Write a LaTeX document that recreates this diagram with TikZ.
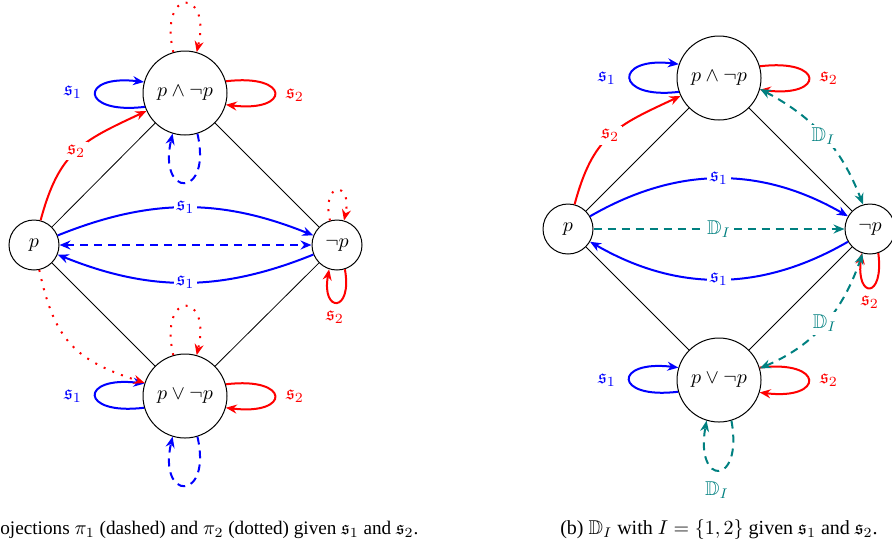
\documentclass[tikz,border=0pt]{standalone}
\usepackage{amssymb}
\usepackage[no-math]{fontspec}
\setmainfont{Liberation Serif}
\usetikzlibrary{arrows.meta}
\begin{document}
\begin{tikzpicture}[x=0.5pt,y=-0.5pt,
  big/.style={circle,draw,line width=0.5pt,minimum size=42pt,inner sep=0pt},
  small/.style={circle,draw,line width=0.5pt,minimum size=25pt,inner sep=0pt},
  link/.style={line width=0.4pt},
  tip/.tip={Stealth[length=5.5pt,width=4.5pt,inset=1.8pt]},
  arr/.style={line width=1pt,-tip},
  darr/.style={line width=1pt,tip-tip},
  dsh/.style={dash pattern=on 4pt off 3pt},
  dtd/.style={dash pattern=on 1pt off 3.7pt},
  lbl/.style={fill=white,inner sep=1.5pt},
  tag/.style={inner sep=1pt}]
\useasboundingbox (0,0) rectangle (892,548);
% ---------- left diagram ----------
\node[big] (A) at (185,93) {$p\wedge\neg p$};
\node[small] (P) at (34,245) {$p$};
\node[small] (N) at (337,245) {$\neg p$};
\node[big] (V) at (185,396) {$p\vee\neg p$};
\draw[link] (P) -- (A) (A) -- (N) (N) -- (V) (V) -- (P);
% loops on A
\draw[blue,arr] (A.199) .. controls +(-65,8) and +(-65,-8) .. (A.165);
\node[blue,tag] (lA1) at (73,92) {$\mathfrak{s}_1$};
\draw[red,arr] (A.16) .. controls +(65,-8) and +(65,8) .. (A.-16);
\node[red,tag] (lA2) at (295,95) {$\mathfrak{s}_2$};
\draw[red,arr,dtd] (A.106) .. controls +(-15,-65) and +(15,-65) .. (A.74);
\draw[blue,arr,dsh] (A.-73) .. controls +(15,65) and +(-15,65) .. (A.-107);
% loops on V
\draw[blue,arr] (V.196) .. controls +(-65,8) and +(-65,-8) .. (V.163);
\node[blue,tag] (lV1) at (73,396) {$\mathfrak{s}_1$};
\draw[red,arr] (V.16) .. controls +(65,-8) and +(65,8) .. (V.-16);
\node[red,tag] (lV2) at (295,396) {$\mathfrak{s}_2$};
\draw[red,arr,dtd] (V.106) .. controls +(-15,-65) and +(15,-65) .. (V.74);
\draw[blue,arr,dsh] (V.-73) .. controls +(15,65) and +(-15,65) .. (V.-107);
% loops on N
\draw[red,arr,dtd] (N.106) .. controls +(-9,-40) and +(9,-40) .. (N.74);
\draw[red,arr] (N.-72) .. controls +(8,44) and +(-8,44) .. (N.-108);
\node[red,tag] (lN2) at (335,317) {$\mathfrak{s}_2$};
% edges
\draw[red,arr] (P) to[out=75,in=205,looseness=1.2] node[lbl] (lPA) {$\mathfrak{s}_2$} (A);
\draw[red,arr,dtd] (P) to[out=-78,in=162,looseness=1.2] (V);
\draw[blue,arr] (P) to[bend left=22] node[lbl] (lPN) {$\mathfrak{s}_1$} (N);
\draw[blue,arr] (N) to[bend left=22] node[lbl] (lNP) {$\mathfrak{s}_1$} (P);
\draw[blue,darr,dsh] (P) -- (N);
% ---------- right diagram ----------
\node[big] (A2) at (719,78) {$p\wedge\neg p$};
\node[small] (P2) at (568,229) {$p$};
\node[small] (N2) at (870,229) {$\neg p$};
\node[big] (V2) at (719,380) {$p\vee\neg p$};
\draw[link] (P2) -- (A2) (A2) -- (N2) (N2) -- (V2) (V2) -- (P2);
\draw[blue,arr] (A2.199) .. controls +(-65,8) and +(-65,-8) .. (A2.161);
\node[blue,tag] (lA21) at (607,78) {$\mathfrak{s}_1$};
\draw[red,arr] (A2.16) .. controls +(65,-8) and +(65,8) .. (A2.-16);
\node[red,tag] (lA22) at (829,78) {$\mathfrak{s}_2$};
\draw[blue,arr] (V2.196) .. controls +(-65,8) and +(-65,-8) .. (V2.163);
\node[blue,tag] (lV21) at (607,380) {$\mathfrak{s}_1$};
\draw[red,arr] (V2.17) .. controls +(65,-8) and +(65,8) .. (V2.-17);
\node[red,tag] (lV22) at (829,380) {$\mathfrak{s}_2$};
\draw[teal,arr,dsh] (V2.-73) .. controls +(12,66) and +(-12,66) .. (V2.-107);
\node[teal,tag] (lV2D) at (717,490) {$\mathbb{D}_I$};
\draw[red,arr] (N2.-71) .. controls +(6,46) and +(-6,46) .. (N2.-109);
\node[red,tag] (lN22) at (870,302) {$\mathfrak{s}_2$};
\draw[red,arr] (P2) to[out=75,in=205,looseness=1.2] node[lbl] (lPA2) {$\mathfrak{s}_2$} (A2);
\draw[blue,arr] (P2) to[bend left=30] node[lbl] (lPN2) {$\mathfrak{s}_1$} (N2);
\draw[blue,arr] (N2) to[bend left=30] node[lbl] (lNP2) {$\mathfrak{s}_1$} (P2);
\draw[teal,arr,dsh] (P2) -- node[lbl] (lPND) {$\mathbb{D}_I$} (N2);
\draw[teal,darr,dsh] (A2.-15) to[out=-28,in=111] node[lbl] (lAND) {$\mathbb{D}_I$} (N2.106);
\draw[teal,darr,dsh] (V2.16) to[out=23,in=-109] node[lbl] (lVND) {$\mathbb{D}_I$} (N2.-107);
% ---------- captions ----------
\node[anchor=base west,inner sep=0pt,font=\fontsize{9.6pt}{11pt}\selectfont] (capA) at (0,534) {ojections $\pi_1$ (dashed) and $\pi_2$ (dotted) given $\mathfrak{s}_1$ and $\mathfrak{s}_2$.};
\node[anchor=base,inner sep=0pt] (capB) at (719,534) {(b) $\mathbb{D}_I$ with $I=\{1,2\}$ given $\mathfrak{s}_1$ and $\mathfrak{s}_2$.};
\end{tikzpicture}
\end{document}
